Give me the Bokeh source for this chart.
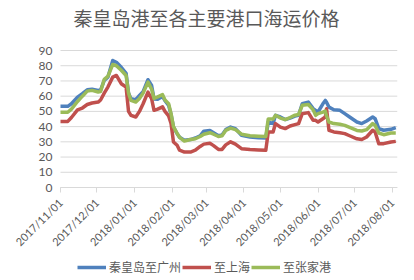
import math
from datetime import datetime, timedelta
import pandas as pd
from bokeh.plotting import figure
from bokeh.models import (Range1d, FixedTicker, MonthsTicker, DatetimeTickFormatter,
                          Legend, LegendItem, ColumnDataSource, Title)
from bokeh.embed import file_html
from bokeh.resources import INLINE

# ---- data ----
dates = [
    "2017-11-01", "2017-11-07", "2017-11-10", "2017-11-15", "2017-11-19", "2017-11-23",
    "2017-11-27", "2017-12-02", "2017-12-04", "2017-12-07", "2017-12-10", "2017-12-14",
    "2017-12-17", "2017-12-21", "2017-12-25", "2017-12-27", "2017-12-29", "2018-01-02",
    "2018-01-05", "2018-01-08", "2018-01-12", "2018-01-15", "2018-01-17", "2018-01-20",
    "2018-01-24", "2018-01-26", "2018-01-29", "2018-01-31", "2018-02-02", "2018-02-05",
    "2018-02-07", "2018-02-11", "2018-02-16", "2018-02-20", "2018-02-24", "2018-02-27",
    "2018-03-04", "2018-03-07", "2018-03-11", "2018-03-14", "2018-03-17", "2018-03-21",
    "2018-03-25", "2018-03-30", "2018-04-06", "2018-04-13", "2018-04-19", "2018-04-21",
    "2018-04-25", "2018-04-27", "2018-05-01", "2018-05-05", "2018-05-09", "2018-05-13",
    "2018-05-16", "2018-05-19", "2018-05-24", "2018-05-28", "2018-05-30", "2018-06-01",
    "2018-06-05", "2018-06-07", "2018-06-08", "2018-06-10", "2018-06-14", "2018-06-19",
    "2018-06-23", "2018-06-27", "2018-07-03", "2018-07-07", "2018-07-11", "2018-07-16",
    "2018-07-18", "2018-07-21", "2018-07-25", "2018-07-31", "2018-08-04",
]
guangzhou = [
    53.3, 53.3, 55.0, 59.4, 61.6, 64.2, 64.5, 63.8, 64.0, 70.3, 72.5, 83.4,
    82.3, 79.0, 75.0, 62.0, 58.3, 57.7, 60.5, 63.0, 70.8, 67.0, 58.2, 58.0,
    59.8, 57.0, 54.0, 48.0, 39.7, 35.4, 33.0, 31.0, 31.5, 32.5, 34.0, 37.0,
    37.5, 36.0, 34.0, 34.5, 38.0, 39.7, 38.7, 34.3, 33.2, 32.7, 32.5, 43.0,
    42.0, 47.4, 46.3, 44.6, 45.6, 46.9, 47.4, 55.0, 56.1, 51.8, 50.7, 49.6,
    55.0, 57.2, 56.0, 52.8, 51.1, 50.7, 48.5, 46.3, 43.0, 42.0, 43.7, 46.3,
    45.2, 38.7, 37.6, 38.2, 39.3,
]
shanghai = [
    43.4, 43.4, 46.0, 51.0, 52.2, 54.5, 55.5, 56.1, 57.5, 62.0, 66.0, 72.5,
    73.6, 68.2, 66.0, 50.0, 47.4, 46.3, 50.0, 55.0, 62.7, 58.3, 50.7, 51.5,
    53.0, 50.0, 47.0, 42.0, 29.9, 27.7, 24.5, 23.3, 23.3, 24.5, 27.0, 28.5,
    29.0, 27.5, 25.0, 25.0, 28.0, 30.0, 28.5, 25.5, 25.0, 24.7, 24.4, 36.5,
    36.5, 42.0, 39.7, 38.7, 40.4, 41.3, 42.0, 48.5, 49.2, 44.1, 44.1, 43.0,
    45.2, 46.3, 51.8, 37.6, 36.5, 36.0, 35.4, 34.0, 32.0, 31.5, 33.2, 37.6,
    36.5, 28.8, 28.8, 29.9, 30.3,
]
zhangjiagang = [
    49.4, 49.4, 51.5, 56.5, 60.0, 63.3, 63.8, 62.7, 63.0, 71.0, 73.0, 80.8,
    80.0, 77.0, 73.6, 62.0, 57.2, 56.1, 58.5, 62.0, 69.2, 64.5, 58.5, 59.5,
    61.0, 57.5, 55.0, 48.5, 40.0, 35.5, 33.0, 30.5, 31.5, 32.0, 33.5, 35.0,
    36.0, 35.0, 33.5, 34.0, 37.5, 39.0, 38.0, 35.0, 34.0, 33.7, 33.5, 45.0,
    45.0, 47.4, 45.6, 44.6, 46.0, 47.5, 47.9, 54.0, 54.5, 51.0, 47.4, 48.5,
    49.5, 50.2, 47.0, 43.0, 42.0, 41.5, 40.8, 39.5, 37.5, 37.1, 38.0, 42.0,
    40.8, 35.8, 34.7, 35.8, 35.8,
]
series_names = ["秦皇岛至广州", "至上海", "至张家港"]
series_colors = ["#4F81BD", "#C0504D", "#9BBB59"]
y_ticks = [0, 10, 20, 30, 40, 50, 60, 70, 80, 90]
title_text = "秦皇岛港至各主要港口海运价格"
x_start = datetime(2017, 11, 1)
x_end = datetime(2018, 8, 5, 10)


def ms(d):
    return pd.Timestamp(d).value / 1e6


# ---- layout constants (pixels) ----
W, H = 414, 280
RIGHT = 17
FRAME_TOP = 40          # frame starts a little above the top gridline
PLOT_TOP = 50           # pixel row of the value 90
PLOT_LEFT = 60          # pixel column of the plot area's left edge
AXIS_Y = 187            # pixel row of the value 0
y_max = 90
px_per_unit = (AXIS_Y - PLOT_TOP) / y_max
y_min = -(H - AXIS_Y) / px_per_unit                 # frame runs to the bottom edge
y_hi = y_max + (PLOT_TOP - FRAME_TOP) / px_per_unit
plot_w = W - RIGHT - PLOT_LEFT
px_per_sec = plot_w / (x_end - x_start).total_seconds()
x_lo = x_start - timedelta(seconds=PLOT_LEFT / px_per_sec)  # frame runs to the left edge

x = pd.to_datetime(dates)
src = ColumnDataSource(dict(x=x, g=guangzhou, s=shanghai, z=zhangjiagang))

p = figure(width=W, height=H, x_axis_type="datetime", output_backend="svg",
           toolbar_location=None, title=None,
           x_range=Range1d(start=x_lo, end=x_end),
           y_range=Range1d(start=y_min, end=y_hi),
           min_border_left=0, min_border_right=RIGHT, min_border_top=FRAME_TOP,
           min_border_bottom=0)
p.background_fill_color = "white"
p.border_fill_color = "white"
p.outline_line_color = None

# small spacer title (closest to the frame) then the real title above it
spacer = Title(text=" ", text_font_size="4px", standoff=3)
main_title = Title(text=title_text, align="left", offset=73, standoff=0,
                   text_font="Noto Sans CJK SC", text_font_size="19px",
                   text_font_style="normal", text_color="#595959")
p.add_layout(spacer, "above")
p.add_layout(main_title, "above")

# horizontal gridlines across the plot area only
p.segment(x0=[x_start] * len(y_ticks), x1=[x_end] * len(y_ticks), y0=y_ticks, y1=y_ticks,
          line_color="#D9D9D9", line_width=1)

renderers = []
for col, color in zip(["g", "s", "z"], series_colors):
    r = p.line("x", col, source=src, line_color=color, line_width=3.5, line_join="round")
    renderers.append(r)

# x axis pinned at value 0
p.xaxis.fixed_location = 0
p.xaxis.bounds = (ms(x_start), ms(x_end))
p.xaxis.ticker = MonthsTicker(months=list(range(12)))
p.xaxis.formatter = DatetimeTickFormatter(months="%Y/%m/%d", days="%Y/%m/%d")
p.xaxis.major_label_orientation = math.pi / 4
p.xaxis.major_label_standoff = 8
p.xaxis.major_label_text_font = "Lato"
p.xaxis.major_label_text_font_size = "11px"
p.xaxis.major_label_text_color = "#595959"
p.xaxis.axis_line_color = "#D9D9D9"
p.xaxis.major_tick_line_color = "#D9D9D9"
p.xaxis.major_tick_in = 0
p.xaxis.major_tick_out = 5
p.xaxis.minor_tick_line_color = None

# y axis pinned at the plot area's left edge
p.yaxis.fixed_location = ms(x_start)
p.yaxis.bounds = (0, y_max)
p.yaxis.ticker = FixedTicker(ticks=y_ticks)
p.yaxis.axis_line_color = None
p.yaxis.major_tick_line_color = None
p.yaxis.minor_tick_line_color = None
p.yaxis.major_tick_out = 0
p.yaxis.major_label_standoff = 8
p.yaxis.major_label_text_font = "Lato"
p.yaxis.major_label_text_font_size = "12px"
p.yaxis.major_label_text_color = "#595959"

p.xgrid.grid_line_color = None
p.ygrid.grid_line_color = None

legend = Legend(items=[LegendItem(label=n, renderers=[r]) for n, r in zip(series_names, renderers)],
                orientation="horizontal", location=(77, 5),
                label_text_font="Noto Sans CJK SC", label_text_font_size="12px",
                label_text_color="#595959", glyph_width=29, glyph_height=12,
                label_standoff=3, spacing=1, padding=0, margin=0,
                border_line_color=None, background_fill_alpha=0)
p.add_layout(legend, "center")

open("out.html", "w").write(file_html(p, INLINE))
